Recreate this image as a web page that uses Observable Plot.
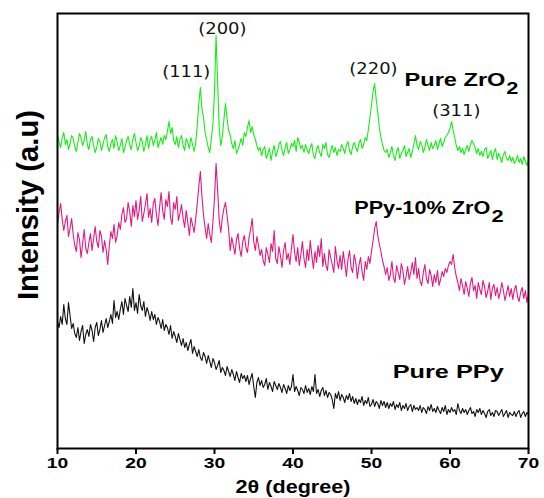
<!DOCTYPE html>
<html>
<head>
<meta charset="utf-8">
<script src="https://cdn.jsdelivr.net/npm/d3@7"></script>
<script src="https://cdn.jsdelivr.net/npm/@observablehq/plot@0.6"></script>
<style>
  html, body { margin: 0; padding: 0; background: #fff; }
  #chart { width: 544px; height: 498px; }
</style>
</head>
<body>
<div id="chart"></div>
<script>
// 2θ grid: 10° to 70° in 0.2° steps (301 points)
const twoThetaStart = 10;
const twoThetaStep = 0.2;

// Pure ZrO2 (green) intensity, arbitrary units
const pureZrO2 = [
  314,306,301,311,316,304,309,299,305,313,
  310,302,297,306,315,311,303,308,317,304,
  299,309,312,303,296,301,310,307,298,304,
  311,314,302,297,305,309,300,313,306,298,
  303,310,296,301,308,312,304,299,309,315,
  306,298,302,311,307,297,304,313,300,309,
  312,303,308,316,301,306,311,304,313,309,
  317,327,315,321,308,304,312,301,309,313,
  303,298,310,306,300,311,304,297,305,323,
  345,361,340,331,316,309,301,296,310,324,
  357,413,366,320,303,312,329,345,330,318,
  313,305,300,308,295,299,304,310,303,316,
  312,321,328,316,322,314,309,303,298,301,
  293,299,302,290,295,300,288,297,303,292,
  296,304,307,298,293,301,306,295,299,305,
  302,308,297,311,306,300,303,296,304,299,
  295,301,305,293,290,299,303,296,292,304,
  300,306,294,291,298,303,296,301,293,299,
  297,304,300,295,303,307,298,294,302,306,
  301,297,305,309,300,304,311,308,319,331,
  343,357,365,349,336,321,311,304,298,296,
  299,291,296,302,293,288,297,301,290,295,
  298,303,292,296,300,291,297,304,313,303,
  299,307,304,296,301,309,303,298,306,300,
  303,308,299,305,310,302,306,311,313,316,
  320,327,318,311,303,298,302,296,300,294,
  299,303,297,304,308,305,301,295,300,293,
  297,292,299,301,290,294,298,289,296,300,
  289,295,291,286,294,297,290,288,293,287,
  291,285,288,293,286,290,284,292,287,283,
  288
];

// PPy-10% ZrO2 (pink) intensity
const ppyZrO2 = [
  224,236,245,229,218,227,233,212,220,230,
  214,203,197,216,209,191,205,219,200,195,
  206,215,198,210,222,207,201,218,212,196,
  208,199,184,203,217,210,224,206,213,226,
  219,234,241,226,230,246,237,222,243,232,
  248,229,238,252,227,235,244,255,231,240,
  226,245,250,234,223,241,256,238,229,249,
  242,257,231,224,246,239,252,228,235,244,
  230,221,238,226,213,231,224,216,229,245,
  262,277,252,233,221,210,225,214,206,227,
  250,285,259,228,216,231,240,246,233,219,
  198,211,203,194,209,215,200,192,207,213,
  201,196,211,219,230,207,198,212,203,193,
  199,188,183,201,194,186,205,197,218,190,
  185,202,193,181,198,206,189,195,184,200,
  214,196,187,201,183,194,207,190,181,199,
  188,208,193,180,197,186,203,192,210,182,
  195,183,178,199,191,184,176,202,188,180,
  193,179,197,185,172,189,198,181,176,194,
  186,170,183,191,177,168,187,179,192,185,
  197,208,220,227,213,204,197,188,182,174,
  181,168,174,187,171,166,183,176,169,185,
  178,164,172,182,169,176,186,174,191,170,
  180,167,163,176,184,170,165,179,173,162,
  174,166,178,163,169,177,172,180,176,183,
  187,184,194,181,172,166,158,170,163,154,
  167,160,152,165,171,158,163,150,166,159,
  154,168,162,151,157,166,149,160,164,153,
  161,150,156,166,158,148,155,163,152,160,
  149,159,163,152,147,156,161,150,158,146,
  155
];

// Pure PPy (black) intensity
const purePPy = [
  127,121,132,124,144,130,124,146,133,120,
  125,115,111,121,108,117,123,105,114,119,
  112,124,118,107,121,126,113,119,128,116,
  123,130,121,127,134,125,148,131,137,129,
  139,147,134,150,143,137,152,141,160,138,
  146,135,154,143,138,147,132,141,136,128,
  137,129,134,124,131,127,120,129,118,124,
  121,114,123,110,117,112,106,115,109,103,
  110,101,106,98,104,109,95,102,97,92,
  99,91,88,96,92,85,93,87,81,90,
  86,79,83,88,76,81,78,73,82,77,
  72,79,74,68,77,71,66,75,70,73,
  67,73,64,70,75,62,51,66,71,63,
  68,61,64,70,59,66,62,57,67,63,
  59,65,61,56,64,60,55,63,58,62,
  74,57,62,58,53,61,59,55,63,56,
  60,54,62,57,74,55,59,52,58,61,
  53,58,51,56,54,49,40,55,50,57,
  48,54,51,46,53,49,55,47,52,45,
  50,44,49,46,52,43,48,45,51,42,
  44,49,42,47,45,40,48,43,47,41,
  46,40,45,42,47,39,44,41,46,38,
  43,40,45,38,42,44,37,43,39,41,
  38,43,36,41,39,35,42,38,44,37,
  40,36,42,38,35,41,37,43,34,39,
  36,41,37,39,34,45,38,35,40,36,
  39,34,38,41,35,37,32,39,36,40,
  34,38,35,31,37,39,33,36,32,38,
  37,33,36,39,32,35,38,31,36,34,
  33,37,32,36,38,31,35,37,32,36,
  34
];

const xTicks = [10, 20, 30, 40, 50, 60, 70];

const hklLabels = ["(111)", "(200)", "(220)", "(311)"];
const hklX = [26.4, 31.0, 50.25, 60.8];
const hklY = [377, 420, 380, 338];

const sampleNames = ["Pure ZrO", "PPy-10% ZrO", "Pure PPy"];
const sampleX = [54.2, 47.8, 52.7];
const sampleY = [368, 240, 76];
const subscriptText = ["2", "2"];
const subscriptX = [67.15, 65.3];
const subscriptY = [360, 232];

const xLabel = "2θ (degree)";
const yLabel = "Intensity (a.u)";

function toRows(values) {
  return values.map((v, i) => ({ t: twoThetaStart + i * twoThetaStep, v }));
}

const chart = Plot.plot({
  width: 544,
  height: 498,
  marginLeft: 57,
  marginRight: 16,
  marginTop: 13,
  marginBottom: 50,
  style: { fontFamily: "'Liberation Sans', Arial, sans-serif", background: "#fff" },
  x: { domain: [10, 70], ticks: xTicks, label: null },
  y: { domain: [0, 435], axis: null },
  marks: [
    Plot.line(toRows(pureZrO2), { x: "t", y: "v", stroke: "#14ee14", strokeWidth: 1.1 }),
    Plot.line(toRows(ppyZrO2), { x: "t", y: "v", stroke: "#e2187f", strokeWidth: 1.1 }),
    Plot.line(toRows(purePPy), { x: "t", y: "v", stroke: "#111", strokeWidth: 1.1 }),
    Plot.frame({ stroke: "#000", strokeWidth: 2 }),
    Plot.axisX({ ticks: xTicks, tickSize: 6, strokeWidth: 2, tickPadding: 3, fontSize: 15, fontWeight: "bold", label: null }),
    Plot.text([xLabel], { text: d => d, frameAnchor: "bottom", textAnchor: "middle", lineAnchor: "middle", dy: 39, fontSize: 18, fontWeight: "bold", fill: "#000" }),
    Plot.text([yLabel], { text: d => d, frameAnchor: "left", textAnchor: "middle", lineAnchor: "middle", rotate: -90, dx: -29, dy: -26, fontSize: 30, fontWeight: "bold", fill: "#000" }),
    Plot.text(hklLabels, { x: hklX, y: hklY, text: d => d, textAnchor: "middle", fontSize: 16, fontFamily: "'DejaVu Sans', sans-serif", fill: "#111" }),
    Plot.text(sampleNames, { x: sampleX, y: sampleY, text: d => d, textAnchor: "start", fontSize: 18, fontWeight: "bold", fill: "#000" }),
    Plot.text(subscriptText, { x: subscriptX, y: subscriptY, text: d => d, textAnchor: "start", fontSize: 17, fontWeight: "bold", fill: "#000" })
  ]
});

document.getElementById("chart").append(chart);

// The reference image is horizontally stretched; widen text accordingly.
const fixedWidths = { "Intensity (a.u)": 190, "Pure ZrO": 101, "PPy-10% ZrO": 136, "Pure PPy": 111 };
chart.querySelectorAll("text").forEach(t => {
  if (t.querySelector("tspan")) return;
  const s = t.textContent;
  const w = t.getComputedTextLength();
  if (!w) return;
  let target;
  if (s in fixedWidths) target = fixedWidths[s];
  else if (/^\(\d+\)$/.test(s)) target = w * 1.12;
  else if (s === xLabel) target = w * 1.2;
  else target = w * 1.28;
  t.setAttribute("textLength", target.toFixed(1));
  t.setAttribute("lengthAdjust", "spacingAndGlyphs");
});
</script>
</body>
</html>
